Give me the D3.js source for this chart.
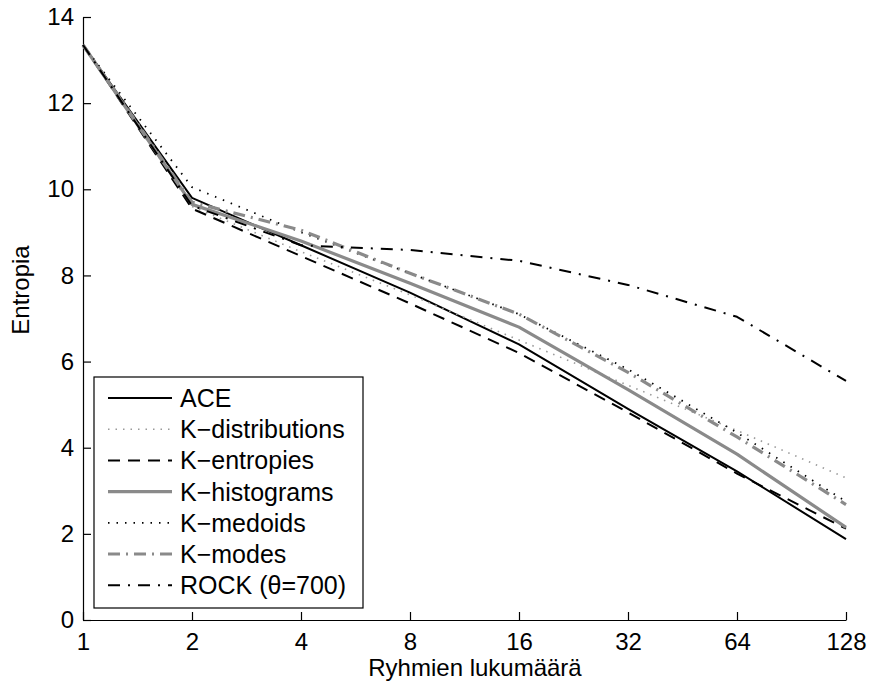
<!DOCTYPE html>
<html><head><meta charset="utf-8">
<script src="https://cdn.jsdelivr.net/npm/d3@7"></script>
<style>body{margin:0;background:#fff}svg{display:block}text{font-family:"Liberation Sans",Arial,sans-serif}</style>
</head><body><svg id="c" width="871" height="688"></svg>
<script>
const xValues = [1, 2, 4, 8, 16, 32, 64, 128];
const xTickLabels = ["1", "2", "4", "8", "16", "32", "64", "128"];
const yTicks = [0, 2, 4, 6, 8, 10, 12, 14];
const seriesNames = ["ACE", "K\u2212distributions", "K\u2212entropies", "K\u2212histograms", "K\u2212medoids", "K\u2212modes", "ROCK (\u03b8=700)"];
const aceValues    = [13.35, 9.80, 8.70, 7.60, 6.40, 4.90, 3.45, 1.88];
const kdistValues  = [13.35, 9.60, 8.55, 7.55, 6.50, 5.45, 4.40, 3.30];
const kentValues   = [13.35, 9.55, 8.45, 7.35, 6.20, 4.82, 3.40, 2.12];
const khistValues  = [13.35, 9.65, 8.80, 7.82, 6.80, 5.35, 3.85, 2.15];
const kmedValues   = [13.35, 10.05, 9.00, 8.05, 7.10, 5.82, 4.35, 2.75];
const kmodesValues = [13.35, 9.70, 9.05, 8.05, 7.10, 5.75, 4.25, 2.68];
const rockValues   = [13.35, 9.62, 8.70, 8.59, 8.34, 7.78, 7.04, 5.55];

const styles = [
  {color:"#000", width:2, dash:null},
  {color:"#999", width:1.6, dash:"1.5,6"},
  {color:"#000", width:2, dash:"12,8"},
  {color:"#8a8a8a", width:3.2, dash:null},
  {color:"#000", width:1.8, dash:"1.5,7"},
  {color:"#8a8a8a", width:3.2, dash:"12,6,2,6"},
  {color:"#000", width:2, dash:"12,8,2,8"}
];
const allValues = [aceValues, kdistValues, kentValues, khistValues, kmedValues, kmodesValues, rockValues];

const svg = d3.select("#c");
const x = d3.scaleLog().base(2).domain([1,128]).range([83,846]);
const y = d3.scaleLinear().domain([0,14]).range([620,17]);
const FS = 24;

const xAxis = d3.axisBottom(x).tickValues(xValues).tickFormat((d,i)=>xTickLabels[i]).tickSizeInner(-8).tickSizeOuter(0).tickPadding(13);
const gx = svg.append("g").attr("transform","translate(0,620)").call(xAxis);
const yAxis = d3.axisLeft(y).tickValues(yTicks).tickSizeInner(-8).tickSizeOuter(0).tickPadding(9);
const gy = svg.append("g").attr("transform","translate(83,0)").call(yAxis);
[gx,gy].forEach(g=>{
  g.selectAll("path").attr("stroke","#000").attr("stroke-width",1.2);
  g.selectAll("line").attr("stroke","#000").attr("stroke-width",1.2);
  g.selectAll("text").attr("font-size",FS).attr("fill","#000").attr("font-family","Liberation Sans, Arial, sans-serif");
});

const line = d3.line().x((d,i)=>x(xValues[i])).y(d=>y(d));
allValues.forEach((vals,k)=>{
  const s = styles[k];
  svg.append("path").attr("d", line(vals)).attr("fill","none")
    .attr("stroke", s.color).attr("stroke-width", s.width)
    .attr("stroke-dasharray", s.dash).attr("stroke-linejoin","round");
});

svg.append("text").attr("x",475).attr("y",676).attr("text-anchor","middle").attr("font-size",FS).text("Ryhmien lukumäärä");
svg.append("text").attr("transform","translate(29,290) rotate(-90)").attr("text-anchor","middle").attr("font-size",FS).text("Entropia");

const lg = svg.append("g");
lg.append("rect").attr("x",94).attr("y",377).attr("width",269).attr("height",231).attr("fill","#fff").attr("stroke","#000").attr("stroke-width",1.2);
seriesNames.forEach((n,k)=>{
  const yy = 398 + k*31.2;
  const s = styles[k];
  lg.append("line").attr("x1",108).attr("x2",172).attr("y1",yy).attr("y2",yy)
    .attr("stroke",s.color).attr("stroke-width",s.width).attr("stroke-dasharray",s.dash);
  lg.append("text").attr("x",180).attr("y",yy+9).attr("font-size",25).text(n);
});
</script></body></html>
